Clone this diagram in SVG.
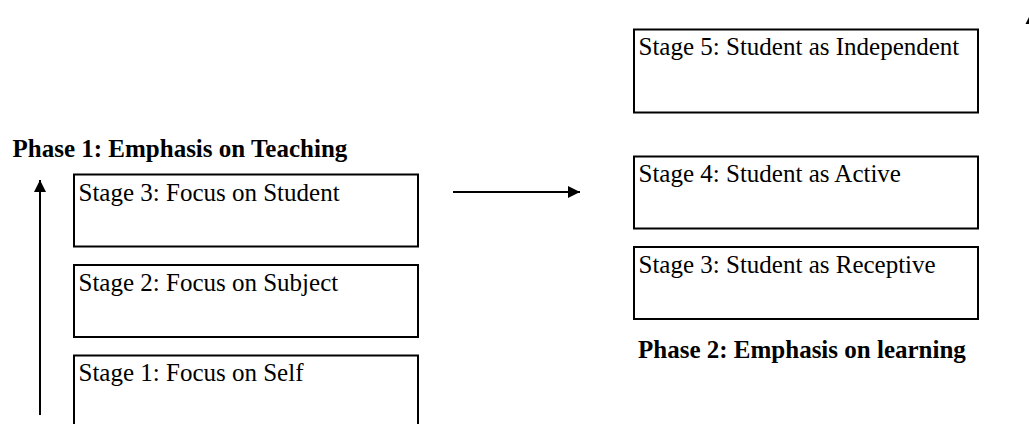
<svg xmlns="http://www.w3.org/2000/svg" width="1029" height="424" viewBox="0 0 1029 424">
  <style>
    .box { fill: #ffffff; stroke: #000000; stroke-width: 2; }
    .lbl { font-family: "Liberation Serif", "Times New Roman", serif; font-size: 25px; fill: #000000; }
    .title { font-family: "Liberation Serif", "Times New Roman", serif; font-size: 25px; font-weight: bold; fill: #000000; }
    .conn { stroke: #000000; stroke-width: 2; fill: none; marker-end: url(#arrow); }
  </style>
  <defs>
    <marker id="arrow" markerUnits="userSpaceOnUse" markerWidth="13" markerHeight="13" refX="12" refY="6" orient="auto">
      <path d="M0,0 L12,6 L0,12 z" fill="#000000"/>
    </marker>
  </defs>
  <rect width="1029" height="424" fill="#ffffff"/>

  <text class="title" x="12.5" y="157">Phase 1: Emphasis on Teaching</text>
  <text class="title" x="638" y="358">Phase 2: Emphasis on learning</text>

  <g id="stage3-focus-student">
    <rect class="box" x="74" y="174.5" width="344" height="72"/>
    <text class="lbl" x="78.5" y="200.5">Stage 3: Focus on Student</text>
  </g>
  <g id="stage2-focus-subject">
    <rect class="box" x="74" y="265" width="344" height="72"/>
    <text class="lbl" x="78.5" y="290.5">Stage 2: Focus on Subject</text>
  </g>
  <g id="stage1-focus-self">
    <rect class="box" x="74" y="355.5" width="344" height="80"/>
    <text class="lbl" x="78.5" y="381">Stage 1: Focus on Self</text>
  </g>
  <g id="stage5-independent">
    <rect class="box" x="634" y="29.5" width="344" height="83"/>
    <text class="lbl" x="638.5" y="55">Stage 5: Student as Independent</text>
  </g>
  <g id="stage4-active">
    <rect class="box" x="634" y="156.5" width="344" height="72"/>
    <text class="lbl" x="638.5" y="182">Stage 4: Student as Active</text>
  </g>
  <g id="stage3-receptive">
    <rect class="box" x="634" y="247" width="344" height="72"/>
    <text class="lbl" x="638.5" y="272.5">Stage 3: Student as Receptive</text>
  </g>

  <g id="connectors">
    <line class="conn" x1="40" y1="415" x2="40" y2="180"/>
    <line class="conn" x1="453" y1="192" x2="580" y2="192"/>
    <polygon points="1025.5,24 1029,24 1029,17" fill="#000000"/>
  </g>
</svg>
